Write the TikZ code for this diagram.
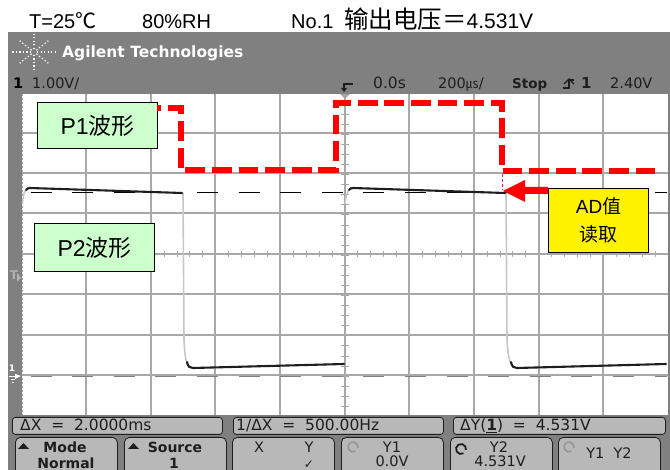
\documentclass[tikz,border=0pt]{standalone}
\usepackage{fontspec}
\setmainfont{Liberation Sans}
\newfontfamily\cjk{Noto Sans CJK SC}
\newfontfamily\dsp{DejaVu Sans}
\definecolor{band}{HTML}{808080}
\definecolor{gridc}{HTML}{A8A8A8}
\definecolor{btn}{HTML}{B8B8B8}
\definecolor{inkc}{HTML}{1E1E1E}
\definecolor{paleg}{HTML}{CCFFCC}
\begin{document}
\begin{tikzpicture}[x=1pt,y=-1pt,
 caption/.style={font=\fontsize{20}{20}\selectfont,anchor=base west,inner sep=0pt,text=black},
 label box/.style={draw=black,line width=1.3pt,inner sep=0pt,align=center,font=\fontsize{23}{28}\selectfont},
 hdr/.style={font=\dsp\fontsize{14.5}{15}\selectfont,anchor=base west,inner sep=0pt,text=inkc},
 hdrb/.style={font=\dsp\bfseries\fontsize{13.5}{15}\selectfont,anchor=base west,inner sep=0pt,text=inkc},
 readout/.style={draw=inkc,fill=btn,line width=.8pt,rounded corners=3pt,minimum height=17pt,inner sep=0pt},
 softkey/.style={draw=inkc,fill=btn,line width=.8pt,rounded corners=5pt,minimum height=40pt,minimum width=102pt,inner sep=0pt,anchor=north west},
 keytext/.style={font=\dsp\fontsize{14.5}{15}\selectfont,text=inkc,inner sep=0pt,anchor=base},
 rdtext/.style={font=\dsp\fontsize{15.5}{15}\selectfont,text=inkc,inner sep=0pt,anchor=base west},
 keybold/.style={font=\dsp\bfseries\fontsize{14}{15}\selectfont,text=inkc,inner sep=0pt,anchor=base},
 grid line/.style={draw=gridc,line width=1.4pt},
 trace/.style={draw=inkc,line width=2.1pt,line cap=round,line join=round},
 edge line/.style={draw=black!22,line width=1.6pt},
 reddash/.style={draw=red,line width=6pt,dash pattern=on 19.8pt off 6.8pt,dash phase=16pt},
 ray/.style={white,line width=1.2pt,dash pattern=on 1.3pt off 2.2pt},
]
\useasboundingbox (0,0) rectangle (670,470);
\fill[white] (0,0) rectangle (670,470);
% instrument body
\fill[band] (8,32) rectangle (670,470);
\fill[white] (22,94) rectangle (667.5,415);
% grid
\foreach \x in {86,151,215,280,345,409,474,539,603}
  \draw[grid line] (\x,94) -- (\x,415);
\foreach \y in {133,173,213,254,294,335,375}
  \draw[grid line] (22,\y) -- (667.5,\y);
% minor ticks on centre lines
\foreach \i in {0,...,49} {
  \pgfmathsetmacro{\tx}{22+\i*12.92}
  \draw[gridc,line width=1pt] (\tx,251) -- (\tx,257);
}
\foreach \i in {1,...,31} {
  \pgfmathsetmacro{\ty}{94+\i*10.08}
  \draw[gridc,line width=1pt] (341,\ty) -- (349,\ty);
}
\draw[gridc,line width=1pt,dash pattern=on 2pt off 2pt] (22,94) -- (22,415);
% cursors
\draw[black,line width=.9pt,dash pattern=on 21pt off 20.6pt] (30.6,192) -- (667,192);
\draw[black!50,line width=.9pt,dash pattern=on 21pt off 20.6pt] (30.6,376) -- (667,376);
% waveform
\draw[edge line] (22.5,204) .. controls (23,196) and (24,190) .. (28,188.5);
\draw[edge line] (183,193) -- (184,340) .. controls (185,358) and (186,367) .. (192,368);
\draw[edge line] (345,204) .. controls (346,196) and (347,190) .. (351,188.5);
\draw[edge line] (506,193) -- (507,340) .. controls (508,358) and (510,367) .. (516,368);
\draw[trace] (26,190) .. controls (27,188.5) and (28,188) .. (30,188) -- (182,193);
\draw[trace] (187,362) .. controls (188,367) and (190,368) .. (193,368) -- (344,364);
\draw[trace] (349,190) .. controls (350,188.5) and (351,188) .. (353,188) -- (505,193);
\draw[trace] (511,362) .. controls (512,367) and (514,368) .. (517,368) -- (666,364);
% header texts
\node[caption] (capt) at (29,29) {T=25{\cjk\fontsize{21}{21}\selectfont ℃}};
\node[caption] (caprh) at (142,29) {80\%RH};
\node[caption] (capno) at (291,29) {No.1};
\node[caption] (capv) at (344,29) {{\cjk\fontsize{24.5}{24.5}\selectfont 输出电压＝}{\fontsize{21}{21}\selectfont 4.531V}};
% logo
\coordinate (spark) at (34,52);
\foreach \a/\r in {0/22,180/22,90/18,270/18,38/20,142/20,218/20,322/20}
  \draw[ray] (spark) ++(\a:3) -- ++(\a:\r-3);
\node[font=\dsp\bfseries\fontsize{15.5}{16}\selectfont,text=white,anchor=base west,inner sep=0pt] (brand) at (62,57.5) {Agilent Technologies};
% status line
\node[font=\dsp\bfseries\fontsize{14.5}{15}\selectfont,text=black,anchor=base west,inner sep=0pt] (chan) at (13,89) {1};
\node[hdr] (scale) at (32,88.5) {1.00V/};
\node[hdr,font=\dsp\fontsize{15.5}{15}\selectfont] (delay) at (373,88.5) {0.0s};
\node[hdr] (tbase) at (438,88.5) {200{\cjk\fontsize{13}{13}\selectfont ㎲}/};
\node[hdrb] (stop) at (512,88.5) {Stop};
\node[font=\dsp\bfseries\fontsize{15}{15}\selectfont,text=inkc,anchor=base west,inner sep=0pt] (trg) at (581,89) {1};
\node[hdr] (lev) at (610,88.5) {2.40V};
\draw[inkc,line width=1.3pt] (563,88) -- (569,88) -- (569,80) -- (574,80);
\draw[inkc,line width=1.3pt] (564,84) -- (569,79) -- (574,84);
\draw[inkc,line width=1.4pt] (353,84) -- (344,84) -- (344,91);
\fill[inkc] (341,88) -- (347,88) -- (344,92) -- cycle;
\fill[black!35] (340,94) -- (350,94) -- (345,99) -- cycle;
% left strip markers
\node[font=\dsp\bfseries\fontsize{12}{12}\selectfont,text=black!30,inner sep=0pt] (tmark) at (14,275) {T};
\fill[black!30] (17,273) -- (21,278) -- (17,282) -- cycle;
\node[font=\dsp\bfseries\fontsize{9}{9}\selectfont,text=white,inner sep=0pt] (gnd) at (12,368) {1};
\fill[white] (15,374) -- (21,376) -- (15,379) -- cycle;
\draw[white,line width=.8pt] (9,376) -- (16,376) (11,379) -- (15,379) (12,382) -- (14,382);
% label boxes
\node[label box,fill=paleg,minimum width=120pt,minimum height=46pt,anchor=north west] (p1) at (37,102) {P1{\cjk 波形}};
\node[label box,fill=paleg,minimum width=120pt,minimum height=48pt,anchor=north west] (p2) at (34,223) {P2{\cjk 波形}};
\node[label box,fill=yellow,minimum width=100pt,minimum height=64pt,anchor=north west,font=\fontsize{19}{28}\selectfont] (ad) at (548,188) {AD{\cjk 值}\\{\cjk 读取}};
% red sketch of P1
\coordinate (r0) at (157,108);
\coordinate (r1) at (181,108);
\coordinate (r2) at (181,170);
\coordinate (r3) at (336,170);
\coordinate (r4) at (336,103);
\coordinate (r5) at (502,103);
\coordinate (r6) at (502,171);
\coordinate (r7) at (655,171);
\draw[reddash,line join=miter] (r0) -- (r1) -- (r2) -- (r3) -- (r4) -- (r5) -- (r6) -- (r7);
\coordinate (adv) at (503,191);
\draw[magenta,line width=1pt,dash pattern=on 3pt off 2pt] (r6) ++(0,3) -- (502,190);
\fill[red] (adv) -- (525,180) -- (525,187) -- (ad.west |- 0,187) -- (ad.west |- 0,194) -- (525,194) -- (525,202) -- cycle;
% bottom readouts
\node[readout,minimum width=210pt,anchor=north west] (rd1) at (12,417) {};
\node[readout,minimum width=210pt,anchor=north west] (rd2) at (233,417) {};
\node[readout,minimum width=212pt,anchor=north west] (rd3) at (453,417) {};
\node[rdtext] at (20,431) {ΔX\ \ =\ \ 2.0000ms};
\node[rdtext] at (236,431) {1/ΔX\ \ =\ \ 500.00Hz};
\node[rdtext] at (460,431) {ΔY(\underline{\textbf{1}})\ \ =\ \ 4.531V};
% soft keys
\node[softkey] (k1) at (15,437) {};
\node[softkey] (k2) at (124,437) {};
\node[softkey] (k3) at (232,437) {};
\node[softkey] (k4) at (341,437) {};
\node[softkey] (k5) at (450,437) {};
\node[softkey] (k6) at (558,437) {};
\fill[inkc] (18,449) -- (29,449) -- (23.5,443) -- cycle;
\fill[inkc] (128,449) -- (139,449) -- (133.5,443) -- cycle;
\node[keybold] at (65,453) {Mode};
\node[keybold] at (66,468) {Normal};
\node[keybold] at (175,453) {Source};
\node[keybold] at (174,468) {1};
\node[keytext] at (259,453) {X};
\node[keytext] at (309,453) {Y};
\node[keytext,font=\dsp\fontsize{12}{12}\selectfont] at (309,468) {✓};
\draw[black!42,line width=1.6pt] (353,447) ++(60:5) arc (60:370:5);
\draw[inkc,line width=1.8pt] (461,449) ++(60:5) arc (60:370:5);
\draw[black!42,line width=1.6pt] (569,447) ++(60:5) arc (60:370:5);
\node[keytext] at (392,453) {Y1};
\node[keytext] at (392,467) {0.0V};
\node[keytext] at (499,453) {Y2};
\node[keytext] at (500,467) {4.531V};
\node[keytext] at (609,459) {Y1\ \ Y2};
\end{tikzpicture}
\end{document}
